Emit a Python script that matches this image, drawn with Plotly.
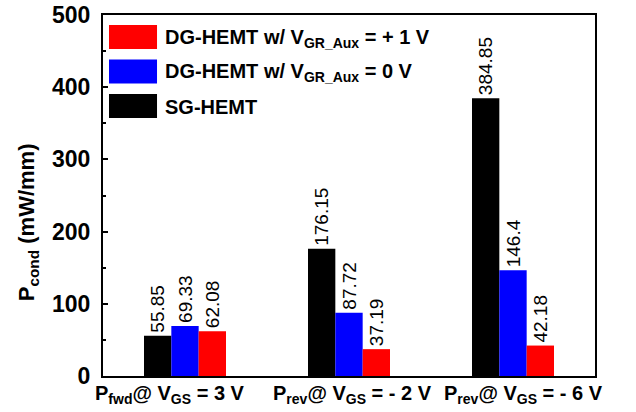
import plotly.graph_objects as go

# Conduction power loss per operating condition
categories = [
    "P<sub>fwd</sub>@ V<sub>GS</sub> = 3 V",
    "P<sub>rev</sub>@ V<sub>GS</sub> = - 2 V",
    "P<sub>rev</sub>@ V<sub>GS</sub> = - 6 V",
]
sg_hemt = [55.85, 176.15, 384.85]
dg_hemt_0v = [69.33, 87.72, 146.4]
dg_hemt_1v = [62.08, 37.19, 42.18]

series_names = [
    "SG-HEMT",
    "DG-HEMT w/ V<sub>GR_Aux</sub> = 0 V",
    "DG-HEMT w/ V<sub>GR_Aux</sub> = + 1 V",
]
series_values = [sg_hemt, dg_hemt_0v, dg_hemt_1v]
series_colors = ["#000000", "#0000FF", "#FF0000"]

y_ticks = [0, 100, 200, 300, 400, 500]

FONT = "Liberation Sans, Arial, sans-serif"

fig = go.Figure()
for name, vals, col in zip(series_names, series_values, series_colors):
    fig.add_trace(go.Bar(
        x=categories,
        y=vals,
        name=name,
        marker=dict(color=col, line=dict(width=0)),
        text=[f"{v:g}" for v in vals],
        textposition="outside",
        textangle=-90,
        constraintext="none",
        cliponaxis=False,
        textfont=dict(family=FONT, size=19, color="black"),
        showlegend=False,
    ))

# Category labels under the axis, nudged so the long labels do not collide
label_shift = [-15, 3, 10]
for cat, dx in zip(categories, label_shift):
    fig.add_annotation(xref="x", yref="paper", x=cat, y=0, yshift=-4, xshift=dx,
                       xanchor="center", yanchor="top", showarrow=False, text=cat,
                       font=dict(family=FONT, size=20, color="black", weight="bold"))

# Y-axis title
fig.add_annotation(xref="paper", yref="paper", x=-0.153, y=0.425,
                   xanchor="center", yanchor="middle", textangle=-90, showarrow=False,
                   text="P<sub>cond</sub> (mW/mm)",
                   font=dict(family=FONT, size=22, color="black", weight="bold"))

# Legend drawn as large swatches with labels, top entry first
legend_order = list(reversed(range(len(series_names))))
sw_top = 0.972
sw_h = 0.066
sw_step = 0.0955
for i, idx in enumerate(legend_order):
    y1 = sw_top - i * sw_step
    y0 = y1 - sw_h
    fig.add_shape(type="rect", xref="paper", yref="paper",
                  x0=0.0122, x1=0.1098, y0=y0, y1=y1,
                  fillcolor=series_colors[idx], line=dict(width=0))
    fig.add_annotation(xref="paper", yref="paper", x=0.122, y=(y0 + y1) / 2 - 0.004,
                       xanchor="left", yanchor="middle", showarrow=False,
                       text=series_names[idx],
                       font=dict(family=FONT, size=20, color="black", weight="bold"))

fig.update_layout(
    width=636, height=412,
    margin=dict(l=103, r=41, t=15, b=36),
    paper_bgcolor="white", plot_bgcolor="white",
    barmode="group", bargap=0.5, bargroupgap=0,
    showlegend=False,
    font=dict(family=FONT, color="black"),
)
fig.update_xaxes(
    type="category",
    range=[-0.5, 2.5],
    automargin=False,
    showticklabels=False,
    showline=True, linecolor="black", linewidth=2, mirror=True,
    ticks="", showgrid=False,
)
fig.update_yaxes(
    range=[0, 500],
    tickvals=y_ticks,
    automargin=False,
    showline=True, linecolor="black", linewidth=2, mirror=True,
    ticks="inside", ticklen=5, tickwidth=2, tickcolor="black",
    minor=dict(dtick=50, ticks="inside", ticklen=3, tickwidth=2, tickcolor="black", showgrid=False),
    showgrid=False, zeroline=False,
    ticklabelstandoff=6,
    tickfont=dict(family=FONT, size=23, color="black", weight="bold"),
)

fig.write_html("out.html")
